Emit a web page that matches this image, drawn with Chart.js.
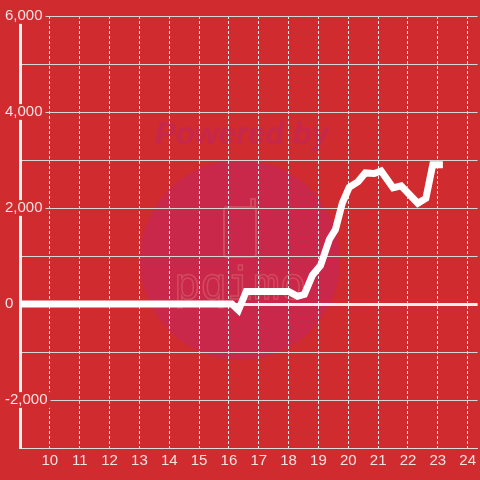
<!DOCTYPE html>
<html>
<head>
<meta charset="utf-8">
<script src="https://cdn.jsdelivr.net/npm/chart.js@4/dist/chart.umd.min.js"></script>
<style>
  html, body { margin: 0; padding: 0; background: #d02b2f; }
  #wrap { width: 480px; height: 480px; }
</style>
</head>
<body>
<div id="wrap"><canvas id="c" width="480" height="480"></canvas></div>
<script>
// ---- data ----
const times  = [9.0, 16.1, 16.32, 16.58, 18.0, 18.3, 18.53, 18.8, 19.07, 19.37, 19.57, 19.8, 20.03, 20.33, 20.57, 20.87, 21.1, 21.5, 21.77, 22.33, 22.6, 22.83, 23.17];
const values = [0,   0,    -130,  260,   260,  160,  200,   600,  800,   1350,  1550,  2100, 2430,  2550,  2730,  2720,  2770, 2420, 2460,  2100,  2200, 2900,  2900];
const xTicks = [10, 11, 12, 13, 14, 15, 16, 17, 18, 19, 20, 21, 22, 23, 24];
const yTicks = [-3000, -2000, -1000, 0, 1000, 2000, 3000, 4000, 5000, 6000];
const yTickLabels = ['', '-2,000', '', '0', '', '2,000', '', '4,000', '', '6,000'];

const BG = '#d02b2f';
const TEXT = '#f6e2e2';

const watermark = {
  id: 'watermark',
  beforeDraw(chart) {
    const ctx = chart.ctx;
    ctx.save();
    ctx.fillStyle = BG;
    ctx.fillRect(0, 0, chart.width, chart.height);
    ctx.fillStyle = '#c9284a';
    ctx.beginPath();
    ctx.arc(240, 260, 100, 0, Math.PI * 2);
    ctx.fill();
    ctx.fillStyle = '#c6284b';
    ctx.font = 'italic bold 31px "Liberation Sans", Arial, sans-serif';
    ctx.textAlign = 'center';
    ctx.textBaseline = 'middle';
    ctx.fillText('Powered by', 242, 135);
    ctx.strokeStyle = '#d24a60';
    ctx.lineWidth = 2;
    ctx.beginPath();
    ctx.roundRect(224, 207, 32, 50, 3);
    ctx.stroke();
    ctx.beginPath();
    ctx.moveTo(251, 207); ctx.lineTo(251, 199); ctx.lineTo(255, 199); ctx.lineTo(255, 207);
    ctx.stroke();
    ctx.lineWidth = 1.5;
    ctx.font = '44px "DejaVu Sans Mono", monospace';
    ctx.strokeText('pqimo', 240, 288);
    ctx.restore();
  }
};

new Chart(document.getElementById('c'), {
  type: 'line',
  data: {
    datasets: [{
      data: times.map((t, i) => ({ x: t, y: values[i] })),
      borderColor: '#ffffff',
      borderWidth: 7,
      pointRadius: 0,
      tension: 0,
      fill: false,
      borderJoinStyle: 'miter'
    }]
  },
  options: {
    responsive: false,
    animation: false,
    devicePixelRatio: 1,
    layout: { padding: { left: 20, right: 0, top: 16, bottom: 6 } },
    plugins: { legend: { display: false }, tooltip: { enabled: false } },
    scales: {
      x: {
        type: 'linear',
        min: 9,
        max: 24.3333,
        afterBuildTicks: (scale) => { scale.ticks = xTicks.map(v => ({ value: v })); },
        ticks: {
          color: TEXT,
          font: { family: '"Liberation Sans", Arial, sans-serif', size: 15 },
          padding: 4,
          maxRotation: 0,
          autoSkip: false,
          callback: (v) => String(v)
        },
        grid: { color: 'rgba(245,245,245,0.95)', lineWidth: 1, drawTicks: false, tickLength: 0 },
        border: { display: true, color: '#dcdcdc', width: 1, dash: [3, 2] }
      },
      y: {
        type: 'linear',
        min: -3000,
        max: 6000,
        afterBuildTicks: (scale) => { scale.ticks = yTicks.map(v => ({ value: v })); },
        afterFit: (scale) => { scale.width = 0; },
        ticks: {
          color: TEXT,
          font: { family: '"Liberation Sans", Arial, sans-serif', size: 15, lineHeight: 1.05 },
          mirror: true,
          crossAlign: 'near',
          padding: -15,
          autoSkip: false,
          showLabelBackdrop: true,
          backdropColor: BG,
          backdropPadding: { left: 3, right: 3, top: 0, bottom: 0 },
          callback: (v, i) => yTickLabels[i]
        },
        grid: {
          drawTicks: false,
          tickLength: 0,
          color: (ctx) => (ctx.tick && ctx.tick.value === 0) ? '#eeeeee' : '#d6d6d6',
          lineWidth: (ctx) => (ctx.tick && ctx.tick.value === 0) ? 3 : 1
        },
        border: { display: true, color: '#f2f2f2', width: 3 }
      }
    }
  },
  plugins: [watermark]
});
</script>
</body>
</html>
